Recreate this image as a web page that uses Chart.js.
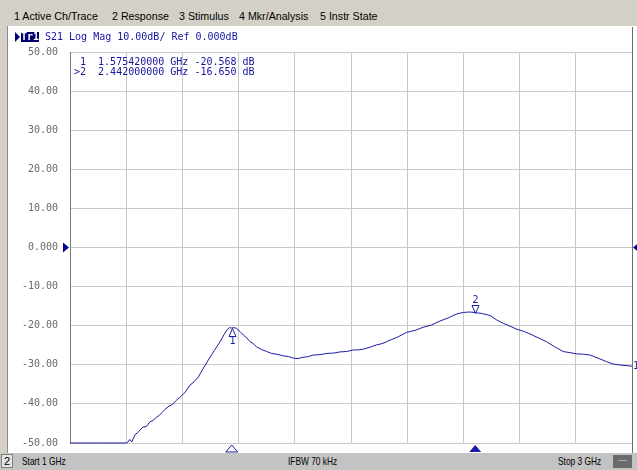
<!DOCTYPE html>
<html>
<head>
<meta charset="utf-8">
<script src="https://cdn.jsdelivr.net/npm/chart.js@4/dist/chart.umd.min.js"></script>
<style>
  body { margin: 0; width: 637px; height: 470px; overflow: hidden; position: relative; background: #fff; }
  #chart { position: absolute; left: 0; top: 0; }
  #menu { position: absolute; left: 0; top: 0; width: 637px; height: 26px; background: #d4d0c8; font: 11px "Liberation Sans", Arial, sans-serif; color: #000; }
  #menu span { position: absolute; top: 10px; white-space: nowrap; transform: scaleX(0.97); transform-origin: left; }
  #leftEdge { position: absolute; left: 0; top: 26px; width: 7px; height: 427px; background: #d4d0c8; border-right: 1px solid #8a8a8a; }
  .mono { font: 10px "DejaVu Sans Mono", monospace; color: #14149e; white-space: pre; position: absolute; }
  #refTri { position: absolute; left: 15px; top: 32px; width: 0; height: 0; border-left: 5px solid #000080; border-top: 5px solid transparent; border-bottom: 5px solid transparent; }
  #trBox { position: absolute; left: 21px; top: 32px; width: 18px; height: 10px; background: #000070; color: #fff; font: bold 10px "DejaVu Sans Mono", monospace; line-height: 10px; text-align: center; }
  #status { position: absolute; left: 0; top: 453px; width: 637px; height: 17px; background: #c3c3c3; font: 11px "Liberation Sans", Arial, sans-serif; color: #000; }
  #status span { position: absolute; top: 2px; white-space: nowrap; transform: scaleX(0.76); transform-origin: left; }
  #chBox { position: absolute; left: 1px; top: 1px; width: 12px; height: 14px; background: #e4e4e4; border: 1px solid #808080; box-sizing: border-box; text-align: center; font-size: 11px; line-height: 12px; }
  #dash { position: absolute; left: 613px; top: 2px; width: 19px; height: 13px; background: #6a6a6a; color: #ddd; font-size: 9px; text-align: center; line-height: 11px; }
</style>
</head>
<body>
<canvas id="chart" width="637" height="470"></canvas>

<div id="menu">
  <span style="left:14px">1 Active Ch/Trace</span>
  <span style="left:112px">2 Response</span>
  <span style="left:179px">3 Stimulus</span>
  <span style="left:239px">4 Mkr/Analysis</span>
  <span style="left:320px">5 Instr State</span>
</div>
<div id="leftEdge"></div>

<div id="refTri"></div>
<div id="trBox">Tr1</div>
<div class="mono" id="traceTitle" style="left:45px; top:31px;"></div>
<div class="mono" id="mkrRow0" style="left:74px; top:56px;"></div>
<div class="mono" id="mkrRow1" style="left:74px; top:66px;"></div>

<div id="status">
  <div id="chBox">2</div>
  <span style="left:22px">Start 1 GHz</span>
  <span style="left:288px">IFBW 70 kHz</span>
  <span style="left:558px">Stop 3 GHz</span>
  <div id="dash">---</div>
</div>

<script>
// Trace S21
const freqGHz = [1.000, 1.100, 1.199, 1.206, 1.213, 1.220, 1.232, 1.242, 1.249, 1.260, 1.272, 1.284,
                 1.296, 1.308, 1.318, 1.328, 1.338, 1.352, 1.365, 1.378, 1.391, 1.409, 1.427, 1.442,
                 1.457, 1.475, 1.492, 1.513, 1.534, 1.548, 1.558, 1.567, 1.575, 1.584, 1.593, 1.605,
                 1.617, 1.629, 1.641, 1.652, 1.664, 1.682, 1.700, 1.718, 1.736, 1.759, 1.778, 1.795,
                 1.812, 1.829, 1.848, 1.866, 1.890, 1.914, 1.938, 1.961, 1.985, 2.008, 2.026, 2.044,
                 2.068, 2.091, 2.110, 2.127, 2.145, 2.163, 2.180, 2.198, 2.228, 2.257, 2.287, 2.317,
                 2.346, 2.376, 2.400, 2.423, 2.442, 2.468, 2.495, 2.518, 2.542, 2.566, 2.590, 2.613,
                 2.637, 2.666, 2.696, 2.725, 2.755, 2.779, 2.803, 2.827, 2.851, 2.868, 2.886, 2.910,
                 2.933, 2.963, 2.993, 3.000];
const s21dB = [-50, -50, -50, -49.8, -49.1, -49.7, -47.8, -47.3, -46.7, -45.9, -45.8, -44.6,
               -44.2, -43.4, -42.9, -42.2, -41.4, -40.6, -40.1, -39.1, -38.3, -37.1, -35.2, -34.3,
               -33.1, -30.8, -28.8, -26.4, -24.1, -22.3, -21.1, -20.5, -20.6, -20.5, -20.7, -21.5,
               -22.4, -23.1, -24.1, -24.6, -25.4, -26.1, -26.6, -27.1, -27.3, -27.7, -27.9, -28.3,
               -28.4, -28.1, -27.9, -27.5, -27.4, -27.1, -27.0, -26.7, -26.6, -26.2, -26.2, -26.0,
               -25.5, -24.9, -24.6, -24.1, -23.5, -23.0, -22.4, -21.7, -21.2, -20.4, -19.8, -18.8,
               -18.0, -17.0, -16.6, -16.5, -16.65, -16.9, -17.4, -18.5, -19.4, -20.1, -20.9, -21.4,
               -22.1, -23.1, -24.1, -25.4, -26.6, -26.9, -27.2, -27.3, -27.5, -28.0, -28.5, -29.2,
               -29.8, -30.1, -30.3, -30.4];

// Markers
const markerNames = ['1', '2'];
const markerFreqs = [1.57542, 2.442];
const markerDb = [-20.568, -16.650];
const activeMarker = 1;

// Axis
const yTickLabels = ['50.00', '40.00', '30.00', '20.00', '10.00', '0.000',
                     '-10.00', '-20.00', '-30.00', '-40.00', '-50.00'];
const refLevel = 0;
const traceColor = '#1a1aa6';

document.getElementById('traceTitle').textContent = 'S21 Log Mag 10.00dB/ Ref 0.000dB';
markerNames.forEach((m, i) => {
    const pre = i === activeMarker ? '>' : ' ';
    document.getElementById('mkrRow' + i).textContent =
        pre + m + '  ' + markerFreqs[i].toFixed(9) + ' GHz ' + markerDb[i].toFixed(3) + ' dB';
});

const points = freqGHz.map((f, i) => ({ x: f, y: s21dB[i] }));

const decor = {
    id: 'decor',
    afterDatasetsDraw(chart) {
        const { ctx, chartArea: a, scales: { x, y } } = chart;
        ctx.save();

        // right frame line
        ctx.strokeStyle = '#6e6e6e';
        ctx.lineWidth = 1;
        ctx.beginPath();
        ctx.moveTo(a.right + 0.5, 27);
        ctx.lineTo(a.right + 0.5, 453);
        ctx.stroke();

        // reference level triangles
        const y0 = y.getPixelForValue(refLevel);
        ctx.fillStyle = '#000090';
        ctx.beginPath();
        ctx.moveTo(a.left - 7, y0 - 5); ctx.lineTo(a.left - 1, y0); ctx.lineTo(a.left - 7, y0 + 5);
        ctx.closePath(); ctx.fill();
        ctx.beginPath();
        ctx.moveTo(a.right + 7, y0 - 5); ctx.lineTo(a.right + 1, y0); ctx.lineTo(a.right + 7, y0 + 5);
        ctx.closePath(); ctx.fill();

        // markers on trace
        ctx.strokeStyle = traceColor;
        ctx.fillStyle = traceColor;
        ctx.lineWidth = 1;
        ctx.font = '10px "DejaVu Sans Mono", monospace';
        ctx.textAlign = 'center';
        ctx.textBaseline = 'middle';
        markerFreqs.forEach((f, i) => {
            const px = Math.round(x.getPixelForValue(f)) + 0.5;
            const py = Math.round(y.getPixelForValue(markerDb[i])) + 0.5;
            const dir = i === activeMarker ? -1 : 1;
            ctx.beginPath();
            ctx.moveTo(px, py);
            ctx.lineTo(px - 3.5, py + dir * 8);
            ctx.lineTo(px + 3.5, py + dir * 8);
            ctx.closePath();
            ctx.stroke();
            ctx.fillText(markerNames[i], px, py + dir * 13);

            // marker position on the bottom axis
            const bx = x.getPixelForValue(f);
            ctx.beginPath();
            ctx.moveTo(bx, a.bottom + 2);
            ctx.lineTo(bx - 6, a.bottom + 9);
            ctx.lineTo(bx + 6, a.bottom + 9);
            ctx.closePath();
            if (i === activeMarker) ctx.fill(); else ctx.stroke();
        });

        // trace number at the right end
        ctx.textAlign = 'left';
        ctx.fillText('1', a.right + 1, y.getPixelForValue(s21dB[s21dB.length - 1]));
        ctx.restore();
    }
};

new Chart(document.getElementById('chart'), {
    type: 'line',
    data: {
        datasets: [{
            data: points,
            borderColor: traceColor,
            borderWidth: 1,
            pointRadius: 0,
            tension: 0,
            clip: 3
        }]
    },
    options: {
        responsive: false,
        animation: false,
        layout: { padding: { top: 52, right: 5, bottom: 27, left: 0 } },
        plugins: { legend: { display: false }, tooltip: { enabled: false } },
        scales: {
            x: {
                type: 'linear',
                min: 1, max: 3,
                ticks: { display: false, stepSize: 0.2 },
                grid: { color: '#c8c8c8', drawTicks: false },
                border: { display: false },
                afterFit: s => { s.height = 0; }
            },
            y: {
                min: -50, max: 50,
                ticks: {
                    stepSize: 10,
                    padding: 12,
                    color: '#6a6a6a',
                    font: { family: '"DejaVu Sans Mono", monospace', size: 10 },
                    callback: v => yTickLabels[Math.round((50 - v) / 10)]
                },
                grid: { color: '#c8c8c8', drawTicks: false },
                border: { display: true, color: '#7a7a7a' },
                afterFit: s => { s.width = 70; }
            }
        }
    },
    plugins: [decor]
});
</script>
</body>
</html>
